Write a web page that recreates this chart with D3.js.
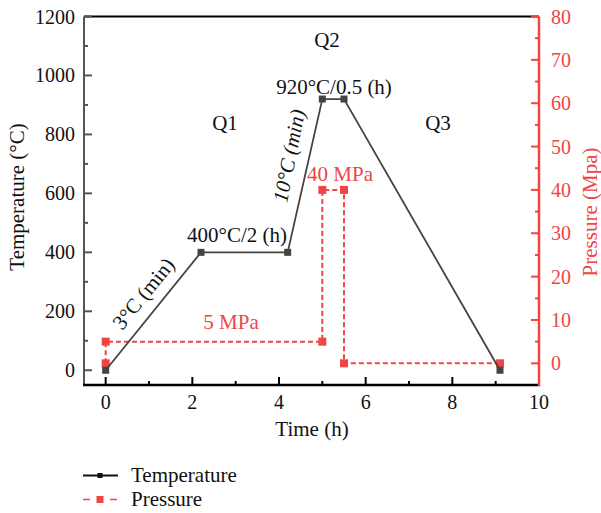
<!DOCTYPE html>
<html>
<head>
<meta charset="utf-8">
<script src="https://d3js.org/d3.v7.min.js"></script>
<style>
  body { margin: 0; background: #fff; }
  text { font-family: "Liberation Serif", "DejaVu Serif", serif; }
</style>
</head>
<body>
<div id="chart"></div>
<script>
// data
const timeT = [0, 2.2, 4.2, 5.0, 5.5, 9.1];
const tempValues = [0, 400, 400, 920, 920, 0];
const timeP = [0, 0, 5.0, 5.0, 5.5, 5.5, 9.1];
const pressValues = [0, 5, 5, 40, 40, 0, 0];

const xTicks = [0, 2, 4, 6, 8, 10];
const tempTicks = [0, 200, 400, 600, 800, 1000, 1200];
const pressTicks = [0, 10, 20, 30, 40, 50, 60, 70, 80];

const red = '#ef4545';
const dark = '#444444';

let width = 601, height = 513;
let svg = d3.select('#chart').append('svg')
  .attr('width', width)
  .attr('height', height);

let x = d3.scaleLinear().domain([-0.5, 10]).range([84, 539]);
let yT = d3.scaleLinear().domain([-50, 1200]).range([385, 16.5]);
let yP = d3.scaleLinear().domain([-5, 80]).range([385, 16.5]);

// frame top
svg.append('line')
  .attr('x1', 84).attr('x2', 539).attr('y1', 16.5).attr('y2', 16.5)
  .attr('stroke', '#000').attr('stroke-width', 2);

// left axis
let gl = svg.append('g');
gl.append('line').attr('x1', 84).attr('x2', 84).attr('y1', 16.5).attr('y2', 385)
  .attr('stroke', '#555').attr('stroke-width', 2);
tempTicks.forEach(t => {
  gl.append('line').attr('x1', 84).attr('x2', 92).attr('y1', yT(t)).attr('y2', yT(t))
    .attr('stroke', '#555').attr('stroke-width', 2);
  gl.append('text').attr('x', 75).attr('y', yT(t) + 7)
    .attr('text-anchor', 'end').attr('font-size', 20).attr('fill', '#111').text(t);
});
d3.range(100, 1200, 200).forEach(t => {
  gl.append('line').attr('x1', 84).attr('x2', 88).attr('y1', yT(t)).attr('y2', yT(t))
    .attr('stroke', '#555').attr('stroke-width', 2);
});

// bottom axis
let gb = svg.append('g');
gb.append('line').attr('x1', 83).attr('x2', 540).attr('y1', 385).attr('y2', 385)
  .attr('stroke', '#000').attr('stroke-width', 2.5);
xTicks.forEach(t => {
  if (t < 10) {
    gb.append('line').attr('x1', x(t)).attr('x2', x(t)).attr('y1', 385).attr('y2', 377)
      .attr('stroke', '#000').attr('stroke-width', 2);
  }
  gb.append('text').attr('x', x(t)).attr('y', 409)
    .attr('text-anchor', 'middle').attr('font-size', 20).attr('fill', '#111').text(t);
});
d3.range(1, 10, 2).forEach(t => {
  gb.append('line').attr('x1', x(t)).attr('x2', x(t)).attr('y1', 385).attr('y2', 381)
    .attr('stroke', '#000').attr('stroke-width', 2);
});

// right axis
let gr = svg.append('g');
gr.append('line').attr('x1', 539).attr('x2', 539).attr('y1', 16.5).attr('y2', 386)
  .attr('stroke', red).attr('stroke-width', 2.5);
pressTicks.forEach(t => {
  gr.append('line').attr('x1', 539).attr('x2', 531).attr('y1', yP(t)).attr('y2', yP(t))
    .attr('stroke', red).attr('stroke-width', 2);
  gr.append('text').attr('x', 551).attr('y', yP(t) + 7)
    .attr('font-size', 20).attr('fill', red).text(t);
});
d3.range(5, 80, 10).forEach(t => {
  gr.append('line').attr('x1', 539).attr('x2', 535).attr('y1', yP(t)).attr('y2', yP(t))
    .attr('stroke', red).attr('stroke-width', 2);
});

// axis titles
svg.append('text').attr('x', 312).attr('y', 436)
  .attr('text-anchor', 'middle').attr('font-size', 21).attr('fill', '#111').text('Time (h)');
svg.append('text').attr('transform', 'translate(24,197) rotate(-90)')
  .attr('text-anchor', 'middle').attr('font-size', 21).attr('fill', '#111').text('Temperature (°C)');
svg.append('text').attr('transform', 'translate(597,212) rotate(-90)')
  .attr('text-anchor', 'middle').attr('font-size', 21).attr('fill', red).text('Pressure (Mpa)');

// pressure series
let pData = timeP.map((t, i) => [t, pressValues[i]]);
svg.append('path')
  .datum(pData)
  .attr('d', d3.line().x(d => x(d[0])).y(d => yP(d[1])))
  .attr('fill', 'none').attr('stroke', red).attr('stroke-width', 2)
  .attr('stroke-dasharray', '5,3');
svg.selectAll('.pm').data(pData).enter().append('rect')
  .attr('class', 'pm')
  .attr('x', d => x(d[0]) - 4).attr('y', d => yP(d[1]) - 4)
  .attr('width', 8).attr('height', 8).attr('fill', red);

// temperature series
let tData = timeT.map((t, i) => [t, tempValues[i]]);
svg.append('path')
  .datum(tData)
  .attr('d', d3.line().x(d => x(d[0])).y(d => yT(d[1])))
  .attr('fill', 'none').attr('stroke', dark).attr('stroke-width', 1.8);
svg.selectAll('.tm').data(tData).enter().append('rect')
  .attr('class', 'tm')
  .attr('x', d => x(d[0]) - 3.5).attr('y', d => yT(d[1]) - 3.5)
  .attr('width', 7).attr('height', 7).attr('fill', dark);

// annotations
function note(txt, cx, cy, col, rot, italic) {
  svg.append('text')
    .attr('transform', 'translate(' + cx + ',' + cy + ') rotate(' + (rot || 0) + ')')
    .attr('text-anchor', 'middle').attr('font-size', 21)
    .attr('font-style', italic ? 'italic' : 'normal')
    .attr('fill', col).text(txt);
}
note('Q2', 327, 47, '#111');
note('Q1', 225, 130, '#111');
note('Q3', 438, 130, '#111');
note('920°C/0.5 (h)', 334, 94, '#111');
note('400°C/2 (h)', 237, 242, '#111');
note('40 MPa', 340, 181, red);
note('5 MPa', 231, 329, red);
note('3°C (min)', 149, 298, '#111', -51);
note('10°C (min)', 296, 157, '#111', -79, true);

// legend
let lg = svg.append('g');
lg.append('line').attr('x1', 83).attr('x2', 118).attr('y1', 475.5).attr('y2', 475.5)
  .attr('stroke', '#111').attr('stroke-width', 2);
lg.append('rect').attr('x', 97.5).attr('y', 473).attr('width', 5).attr('height', 5).attr('fill', '#111');
lg.append('text').attr('x', 131).attr('y', 482).attr('font-size', 21).attr('fill', '#111').text('Temperature');
[[83, 90], [110, 117]].forEach(s => {
  lg.append('line').attr('x1', s[0]).attr('x2', s[1]).attr('y1', 499.5).attr('y2', 499.5)
    .attr('stroke', red).attr('stroke-width', 1.5);
});
lg.append('rect').attr('x', 96.5).attr('y', 496).attr('width', 7).attr('height', 7).attr('fill', red);
lg.append('text').attr('x', 131).attr('y', 506).attr('font-size', 21).attr('fill', '#111').text('Pressure');
</script>
</body>
</html>
